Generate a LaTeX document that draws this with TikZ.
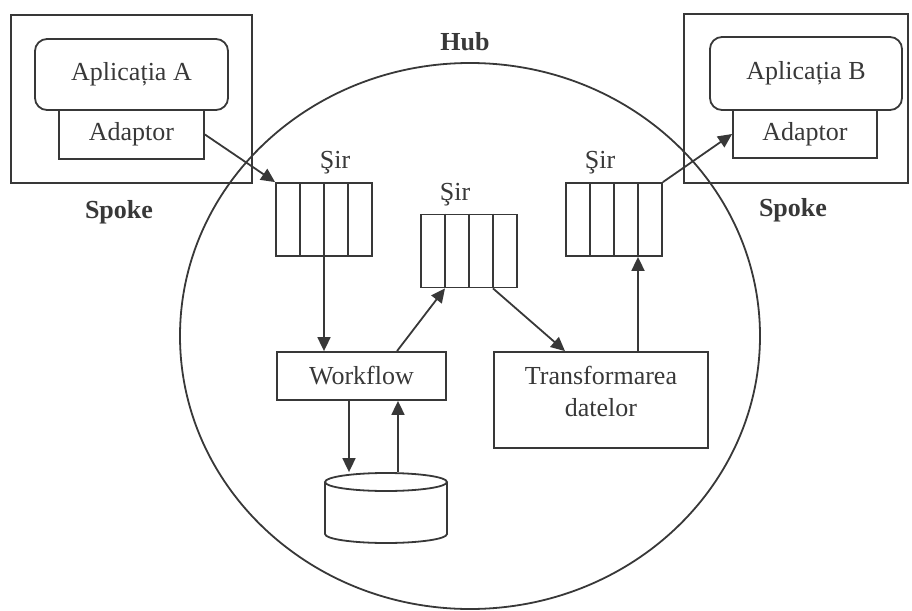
\documentclass[tikz,border=0pt]{standalone}
\usepackage{fontspec}
\setmainfont{Liberation Serif}
\usetikzlibrary{arrows.meta,shapes.geometric,calc}
\definecolor{ink}{HTML}{383838}

\begin{document}
\begin{tikzpicture}[x=0.5pt,y=-0.5pt,line width=0.9pt,color=ink,
  font=\fontsize{13}{15}\selectfont,
  box/.style={draw,rectangle,inner sep=0pt,align=center},
  queue/.style={draw,rectangle,inner sep=0pt,minimum width=48pt,minimum height=36.5pt},
  lbl/.style={font=\fontsize{13}{15}\selectfont\bfseries},
  arr/.style={-{Triangle[length=7pt,width=6.5pt]}}]
\useasboundingbox (0,0) rectangle (912,611);

\node[box,minimum width=120.5pt,minimum height=84pt] (spokeA) at (131.5,99) {};
\node[box,rounded corners=6pt,minimum width=96.5pt,minimum height=35.5pt] (appA) at (131.5,74.5) {Aplicația A};
\node[box,minimum width=72.5pt,minimum height=24.5pt] (adA) at (131.5,134.5) {Adaptor};
\node[lbl] (labA) at (119,212) {Spoke};

\node[box,minimum width=112pt,minimum height=84.5pt] (spokeB) at (796,98.5) {};
\node[box,rounded corners=6pt,minimum width=96pt,minimum height=36.5pt] (appB) at (806,73.5) {Aplicația B};
\node[box,minimum width=72pt,minimum height=24pt] (adB) at (805,134) {Adaptor};
\node[lbl] (labB) at (793,210) {Spoke};

\node[draw,ellipse,inner sep=0pt,minimum width=290pt,minimum height=273pt] (hub) at (470,336) {};
\node[lbl] (labHub) at (465,42) {Hub};

\node[queue] (q1) at (324,219.5) {};
\node[queue] (q2) at (469,251) {};
\node[queue] (q3) at (614,219.5) {};
\foreach \q in {q1,q2,q3}
  \foreach \d in {-24,0,24}
    \draw ($(\q.north)+(\d,0)$) -- ($(\q.south)+(\d,0)$);
\node (s1) at (335,163) {Şir};
\node (s2) at (455,195) {Şir};
\node (s3) at (600,163) {Şir};

\node[box,minimum width=84.5pt,minimum height=24pt] (wf) at (361.5,376) {Workflow};
\node[box,minimum width=107pt,minimum height=48pt] (tr) at (601,400) {};
\node (trtext) at (601,394) {\begin{tabular}{@{}c@{}}Transformarea\\[1pt]datelor\end{tabular}};
\node[inner sep=0pt,minimum width=61pt,minimum height=35pt] (db) at (386,508) {};
\draw (325,482) -- (325,534) arc[start angle=180,end angle=0,x radius=61,y radius=9] -- (447,482);
\draw (386,482) ellipse[x radius=61,y radius=9];

\coordinate (q3in) at ($(q3.south)+(24,0)$);
\coordinate (wfout) at ($(wf.south)+(-12.5,0)$);
\coordinate (wfin) at ($(wf.south)+(36.5,0)$);

\draw[arr] (adA.east) -- (q1.north west);
\draw[arr] (q3.north east) -- (adB.west);
\draw[arr] (q1.south) -- (q1.south |- wf.north);
\draw[arr] ($(wf.north)+(35.5,0)$) -- ($(q2.south)+(-24,0)$);
\draw[arr] ($(q2.south)+(24,0)$) -- ($(tr.north)+(-36,0)$);
\draw[arr] (q3in |- tr.north) -- (q3in);
\draw[arr] (wfout) -- (wfout |- db.north);
\draw[arr] (wfin |- db.north) -- (wfin);
\end{tikzpicture}
\end{document}
